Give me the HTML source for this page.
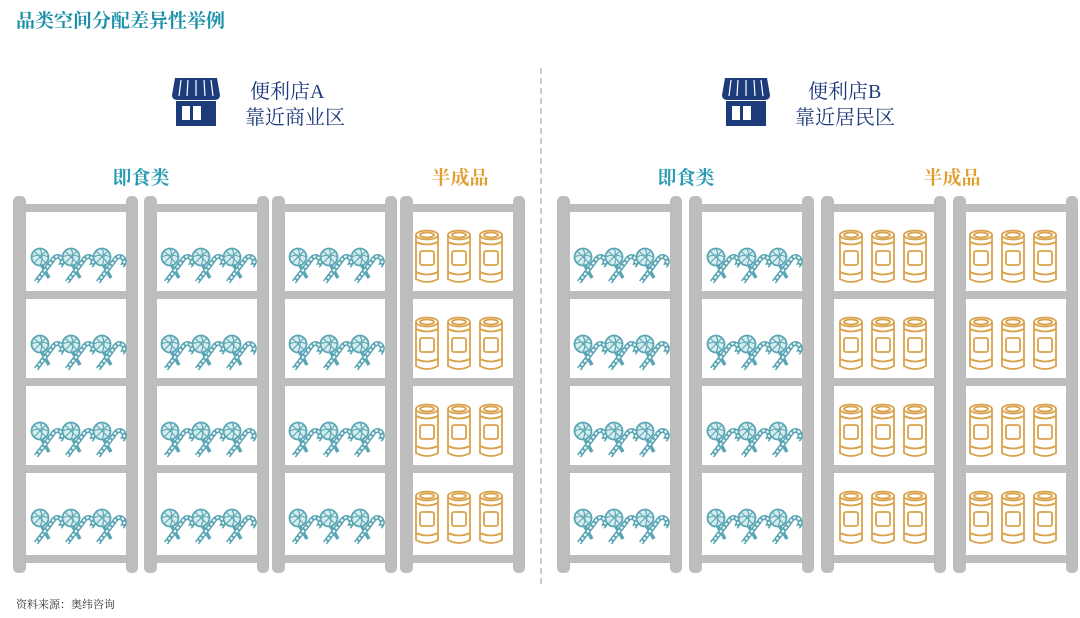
<!DOCTYPE html>
<html><head><meta charset="utf-8"><style>
body{margin:0;width:1080px;height:618px;background:#fff;overflow:hidden}
svg{display:block}
.t{font-family:"Liberation Serif","Noto Serif CJK SC",serif}
</style></head><body>
<svg width="1080" height="618" viewBox="0 0 1080 618">
<defs>
<g id="candy" fill="none" stroke="#5aa6b4" stroke-width="1.8">
  <g id="c1">
    <path d="M10 16 L18 30" stroke-width="3.5"/>
    <circle cx="9" cy="9" r="8.5" fill="#d6ecef"/>
    <path d="M9 0.5 Q13 9 9 17.5 M0.5 9 Q9 5 17.5 9 M3 3 L15 15 M15 3 L3 15" stroke-width="1.1"/>
    <path d="M5 34 L21 13 Q25 6 30 10 Q33 14 29 18" stroke-width="5"/>
    <path d="M5 34 L21 13 Q25 6 30 10 Q33 14 29 18" stroke="#fff" stroke-width="2" stroke-dasharray="2.5 2"/>
  </g>
  <use href="#c1" x="31"/>
  <use href="#c1" x="62"/>
</g>
<g id="can1" fill="#fff" stroke="#d9a24a" stroke-width="1.8">
  <path d="M2 6 L2 50 Q13 56 24 50 L24 6"/>
  <ellipse cx="13" cy="6" rx="11" ry="4.5"/>
  <ellipse cx="13" cy="6" rx="7" ry="2.5"/>
  <path d="M2 13 Q13 18 24 13 M2 43 Q13 48 24 43"/>
  <rect x="6" y="22" width="14" height="14" rx="2"/>
</g>
<g id="cans"><use href="#can1"/><use href="#can1" x="32"/><use href="#can1" x="64"/></g>
<g id="rack" fill="#bdbdbd">
  <rect x="0" y="196" width="13" height="377" rx="5"/>
  <rect x="113" y="196" width="12" height="377" rx="5"/>
  <rect x="10" y="204" width="106" height="8"/>
  <rect x="10" y="291" width="106" height="8"/>
  <rect x="10" y="378" width="106" height="8"/>
  <rect x="10" y="465" width="106" height="8"/>
  <rect x="10" y="555" width="106" height="8"/>
</g>
<g id="candycol"><use href="#candy" y="248"/><use href="#candy" y="335"/><use href="#candy" y="422"/><use href="#candy" y="509"/></g>
<g id="cancol"><use href="#cans" y="229"/><use href="#cans" y="316"/><use href="#cans" y="403"/><use href="#cans" y="490"/></g>
<g id="store" fill="#1d3a7a">
  <path d="M3 0 H45 L48 17 Q48 22 42 22 H6 Q0 22 0 17 Z"/>
  <path d="M9 2 L7 18 M16 2 L15 18 M24 2 V18 M32 2 L33 18 M39 2 L41 18" stroke="#fff" stroke-width="1.2"/>
  <path d="M4 23 H44 V48 H4 Z"/>
  <rect x="10" y="28" width="8" height="14" fill="#fff"/>
  <rect x="21" y="28" width="8" height="14" fill="#fff"/>
</g>
</defs>

<text x="16" y="27" class="t" font-size="19" fill="#1b8fa8" font-weight="bold">品类空间分配差异性举例</text>

<line x1="541" y1="68" x2="541" y2="585" stroke="#aaa" stroke-width="1.2" stroke-dasharray="6 4"/>

<use href="#store" x="172" y="78"/>
<text x="250" y="98" class="t" font-size="20" fill="#1d3a7a">便利店A</text>
<text x="245" y="124" class="t" font-size="20" fill="#1d3a7a">靠近商业区</text>
<use href="#store" x="722" y="78"/>
<text x="808" y="98" class="t" font-size="20" fill="#1d3a7a">便利店B</text>
<text x="795" y="124" class="t" font-size="20" fill="#1d3a7a">靠近居民区</text>

<text x="141" y="184" text-anchor="middle" class="t" font-size="19" fill="#2a9bb5" font-weight="bold">即食类</text>
<text x="460" y="184" text-anchor="middle" class="t" font-size="19" fill="#e0a030" font-weight="bold">半成品</text>
<text x="686" y="184" text-anchor="middle" class="t" font-size="19" fill="#2a9bb5" font-weight="bold">即食类</text>
<text x="952" y="184" text-anchor="middle" class="t" font-size="19" fill="#e0a030" font-weight="bold">半成品</text>

<use href="#rack" x="13"/><use href="#candycol" x="31"/>
<use href="#rack" x="144"/><use href="#candycol" x="161"/>
<use href="#rack" x="272"/><use href="#candycol" x="289"/>
<use href="#rack" x="400"/><use href="#cancol" x="414"/>

<use href="#rack" x="557"/><use href="#candycol" x="574"/>
<use href="#rack" x="689"/><use href="#candycol" x="707"/>
<use href="#rack" x="821"/><use href="#cancol" x="838"/>
<use href="#rack" x="953"/><use href="#cancol" x="968"/>

<text x="16" y="608" class="t" font-size="11" fill="#333">资料来源：奥纬咨询</text>
</svg>
</body></html>
